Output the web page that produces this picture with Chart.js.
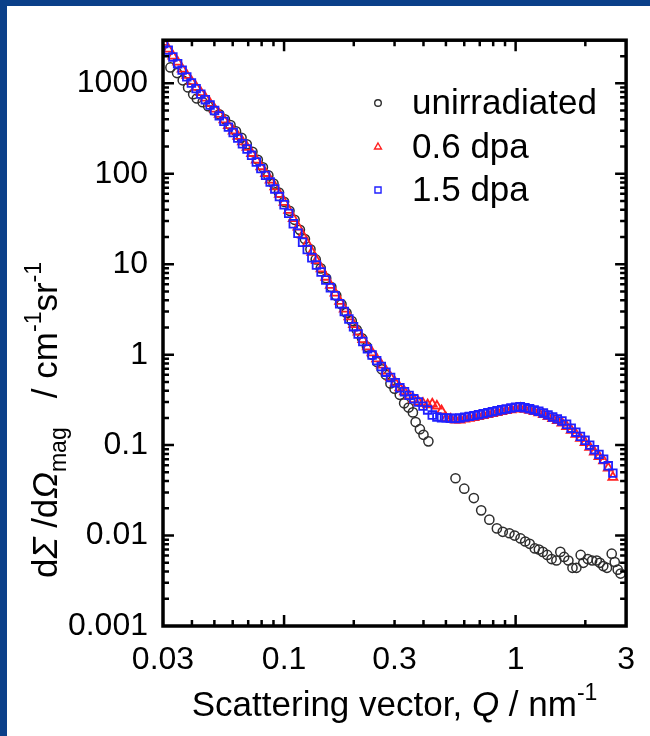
<!DOCTYPE html>
<html>
<head>
<meta charset="utf-8">
<title>SANS magnetic cross-section</title>
<script src="https://cdn.jsdelivr.net/npm/chart.js@4.4.1/dist/chart.umd.min.js"></script>
<style>
  html, body { margin: 0; padding: 0; background: #0b4089; }
  #frame { position: absolute; left: 7px; top: 6px; width: 643px; height: 730px; background: #fff; }
  canvas { display: block; }
</style>
</head>
<body>
<div id="frame"><canvas id="sans" width="643" height="730"></canvas></div>
<script>
// scattering vector Q (nm^-1) shared by both irradiated samples
const qIrr = [
  0.0302, 0.0316, 0.0331, 0.0347, 0.0363, 0.0380, 0.0398, 0.0417, 0.0437, 0.0457,
  0.0479, 0.0501, 0.0525, 0.0550, 0.0575, 0.0603, 0.0631, 0.0661, 0.0692, 0.0724,
  0.0759, 0.0794, 0.0832, 0.0871, 0.0912, 0.0955, 0.1, 0.1047, 0.1096, 0.1148,
  0.1202, 0.1259, 0.1318, 0.1380, 0.1445, 0.1514, 0.1585, 0.1660, 0.1738, 0.1820,
  0.1905, 0.1995, 0.2089, 0.2188, 0.2291, 0.2399, 0.2512, 0.2630, 0.2754, 0.2884,
  0.3020, 0.3162, 0.3311, 0.3467, 0.3631, 0.3802, 0.3981, 0.4169, 0.4365, 0.4571,
  0.4786, 0.5012, 0.5248, 0.5495, 0.5754, 0.6026, 0.6310, 0.6607, 0.6918, 0.7244,
  0.7586, 0.7943, 0.8318, 0.8710, 0.9120, 0.9550, 1.0, 1.047, 1.096, 1.148,
  1.202, 1.259, 1.318, 1.380, 1.445, 1.514, 1.585, 1.660, 1.738, 1.820,
  1.905, 1.995, 2.089, 2.188, 2.291, 2.399, 2.512, 2.630
];

// 0.6 dpa (red triangles)
const dpa06 = [
  2850, 2400, 2010, 1720, 1440, 1230, 1050, 905, 790, 690,
  600, 520, 455, 395, 342, 298, 260, 226, 196, 168,
  142, 120, 101, 85.5, 72, 59.5, 48.5, 39.5, 32, 25.8,
  21, 17, 13.6, 11, 8.9, 7.2, 5.85, 4.8, 3.9, 3.2,
  2.62, 2.15, 1.78, 1.47, 1.22, 1.05, 0.9, 0.77, 0.66, 0.56,
  0.49, 0.43, 0.39, 0.35, 0.32, 0.3, 0.29, 0.28, 0.285, 0.27,
  0.24, 0.198, 0.194, 0.19, 0.19, 0.195, 0.198, 0.202, 0.207, 0.212,
  0.218, 0.224, 0.23, 0.236, 0.241, 0.246, 0.251, 0.255, 0.25, 0.243,
  0.235, 0.228, 0.218, 0.207, 0.197, 0.187, 0.176, 0.161, 0.146, 0.132,
  0.119, 0.107, 0.095, 0.084, 0.075, 0.067, 0.056, 0.044
];

// 1.5 dpa (blue squares)
const dpa15 = [
  2760, 2330, 1960, 1650, 1400, 1180, 1010, 875, 760, 660,
  575, 500, 437, 380, 328, 286, 248, 215, 188, 160,
  135, 114, 96, 81, 68, 56, 45.5, 36.5, 28, 22,
  17.5, 14.5, 11.8, 9.8, 8.2, 6.7, 5.5, 4.5, 3.66, 3.0,
  2.48, 2.04, 1.69, 1.4, 1.16, 0.99, 0.86, 0.74, 0.64, 0.56,
  0.49, 0.43, 0.39, 0.355, 0.325, 0.3, 0.27, 0.245, 0.215, 0.205,
  0.2, 0.2, 0.198, 0.197, 0.199, 0.204, 0.208, 0.212, 0.217, 0.222,
  0.228, 0.234, 0.24, 0.246, 0.251, 0.257, 0.262, 0.266, 0.259, 0.252,
  0.244, 0.237, 0.227, 0.216, 0.205, 0.195, 0.185, 0.17, 0.154, 0.139,
  0.125, 0.113, 0.1, 0.089, 0.079, 0.07, 0.059, 0.049
];

// unirradiated (black circles)
const qUnirr = [
  0.0323, 0.0345, 0.0365, 0.0385, 0.0405, 0.042, 0.0445, 0.047, 0.0497, 0.0525,
  0.0555, 0.0587, 0.062, 0.0655, 0.069, 0.073, 0.077, 0.081, 0.0855, 0.09,
  0.095, 0.1, 0.1055, 0.111, 0.117, 0.123, 0.13, 0.137, 0.144, 0.152,
  0.16, 0.168, 0.177, 0.186, 0.196, 0.206, 0.217, 0.228, 0.24, 0.252,
  0.264, 0.275, 0.288, 0.3, 0.316, 0.33, 0.345, 0.36, 0.37, 0.386,
  0.40, 0.42,
  0.55, 0.60, 0.66, 0.71, 0.77, 0.83, 0.88, 0.94, 0.99, 1.05,
  1.10, 1.15, 1.21, 1.26, 1.31, 1.37, 1.43, 1.50, 1.56, 1.62,
  1.69, 1.76, 1.83, 1.91, 1.96, 2.05, 2.14, 2.24, 2.31, 2.39,
  2.48, 2.6, 2.68, 2.76, 2.84
];
const unirr = [
  1500, 1300, 1080, 900, 760, 680, 620, 560, 505, 455,
  400, 345, 295, 250, 212, 175, 143, 118, 96, 78,
  62, 49, 39, 31, 24, 19, 14.6, 11.3, 9.0, 7.0,
  5.6, 4.5, 3.6, 2.9, 2.35, 1.88, 1.52, 1.22, 1.0, 0.83,
  0.69, 0.6, 0.48, 0.42, 0.36, 0.29, 0.26, 0.23, 0.18, 0.15,
  0.13, 0.11,
  0.043, 0.033, 0.026, 0.019, 0.015, 0.012, 0.011, 0.0106, 0.010, 0.0093,
  0.0086, 0.0081, 0.0072, 0.0070, 0.0066, 0.0061, 0.0055, 0.0053, 0.0066, 0.0058,
  0.0053, 0.0044, 0.0044, 0.0061, 0.0050, 0.0055, 0.0053, 0.0053, 0.0050, 0.0046,
  0.0044, 0.0063, 0.0051, 0.0042, 0.0038
];

const seriesNames = ['unirradiated', '0.6 dpa', '1.5 dpa'];
const xTickLabels = [0.03, 0.1, 0.3, 1, 3];
const yTickLabels = [0.001, 0.01, 0.1, 1, 10, 100, 1000];

const FONT = '"Liberation Sans", Arial, sans-serif';

function pts(xs, ys) {
  return xs.map((v, i) => ({ x: v, y: ys[i] }));
}

// box with inward ticks on all four sides
const frameBox = {
  id: 'frameBox',
  afterDatasetsDraw(chart) {
    const { ctx, chartArea: a, scales } = chart;
    const x = scales.x, y = scales.y;
    ctx.save();
    ctx.strokeStyle = '#000';
    ctx.lineWidth = 2.5;
    ctx.beginPath();
    [0.01, 0.1, 1].forEach(d => {
      for (let k = 1; k <= 9; k++) {
        const v = k * d;
        if (v <= 0.0301 || v >= 2.99) continue;
        const px = x.getPixelForValue(v);
        const len = k === 1 ? 11 : 6;
        ctx.moveTo(px, a.bottom); ctx.lineTo(px, a.bottom - len);
        ctx.moveTo(px, a.top); ctx.lineTo(px, a.top + len);
      }
    });
    [0.001, 0.01, 0.1, 1, 10, 100, 1000].forEach(d => {
      for (let k = 1; k <= 9; k++) {
        const v = k * d;
        if (v <= 0.001 || v >= 3000) continue;
        const py = y.getPixelForValue(v);
        const len = k === 1 ? 11 : 6;
        ctx.moveTo(a.left, py); ctx.lineTo(a.left + len, py);
        ctx.moveTo(a.right, py); ctx.lineTo(a.right - len, py);
      }
    });
    ctx.stroke();
    ctx.lineWidth = 3.5;
    ctx.strokeRect(a.left, a.top, a.right - a.left, a.bottom - a.top);
    ctx.restore();
  }
};

// draws a run of text pieces (normal / italic / sub / sup) starting at x0
function drawPieces(ctx, pieces, x0, base) {
  let xx = x0;
  pieces.forEach(p => {
    ctx.font = p.font;
    ctx.fillText(p.t, xx, base + (p.dy || 0));
    xx += ctx.measureText(p.t).width;
  });
}
function piecesWidth(ctx, pieces) {
  let w = 0;
  pieces.forEach(p => { ctx.font = p.font; w += ctx.measureText(p.t).width; });
  return w;
}

const titles = {
  id: 'titles',
  afterDraw(chart) {
    const { ctx, chartArea: a } = chart;
    const n = '35px ' + FONT, it = 'italic 35px ' + FONT, sm = '23px ' + FONT;
    ctx.save();
    ctx.fillStyle = '#000';
    ctx.textBaseline = 'alphabetic';
    ctx.textAlign = 'left';

    const xt = [
      { t: 'Scattering vector, ', font: n },
      { t: 'Q', font: it },
      { t: ' / nm', font: n },
      { t: '-1', font: sm, dy: -16 }
    ];
    const wx = piecesWidth(ctx, xt);
    drawPieces(ctx, xt, (a.left + a.right) / 2 - wx / 2, 710);

    const yt = [
      { t: 'd', font: n },
      { t: 'Σ', font: it },
      { t: ' /d', font: n },
      { t: 'Ω', font: it },
      { t: 'mag', font: sm, dy: 9 },
      { t: '   / cm', font: n },
      { t: '-1', font: sm, dy: -16 },
      { t: 'sr', font: n },
      { t: '-1', font: sm, dy: -16 }
    ];
    const wy = piecesWidth(ctx, yt);
    ctx.translate(50, 414);
    ctx.rotate(-Math.PI / 2);
    drawPieces(ctx, yt, -wy / 2, 0);
    ctx.restore();
  }
};

// legend inside the plot
const insideLegend = {
  id: 'insideLegend',
  afterDraw(chart) {
    const { ctx } = chart;
    const rows = [97, 141, 184];
    ctx.save();
    chart.data.datasets.forEach((ds, i) => {
      ctx.fillStyle = 'rgba(0,0,0,0)';
      ctx.strokeStyle = ds.borderColor;
      ctx.lineWidth = 1.4;
      Chart.helpers.drawPoint(ctx, {
        pointStyle: ds.pointStyle, radius: ds.legendRadius, borderWidth: 1.4
      }, 371, rows[i]);
      ctx.font = '35px ' + FONT;
      ctx.fillStyle = '#000';
      ctx.textBaseline = 'middle';
      ctx.textAlign = 'left';
      ctx.fillText(seriesNames[i], 405, rows[i] + 1);
    });
    ctx.restore();
  }
};

const ctx = document.getElementById('sans').getContext('2d');
const sansChart = new Chart(ctx, {
  type: 'scatter',
  data: {
    datasets: [
      {
        label: seriesNames[0],
        data: pts(qUnirr, unirr),
        pointStyle: 'circle',
        pointRadius: 4.6,
        legendRadius: 3.3,
        borderColor: '#2e2e2e',
        backgroundColor: 'rgba(0,0,0,0)',
        pointBorderWidth: 1.5,
        order: 3
      },
      {
        label: seriesNames[1],
        data: pts(qIrr, dpa06),
        pointStyle: 'triangle',
        pointRadius: 5.2,
        legendRadius: 4,
        borderColor: '#ff2020',
        backgroundColor: 'rgba(0,0,0,0)',
        pointBorderWidth: 1.8,
        order: 2
      },
      {
        label: seriesNames[2],
        data: pts(qIrr, dpa15),
        pointStyle: 'rect',
        pointRadius: 5.4,
        legendRadius: 4.3,
        borderColor: '#2020ff',
        backgroundColor: 'rgba(0,0,0,0)',
        pointBorderWidth: 1.8,
        order: 1
      }
    ]
  },
  options: {
    responsive: false,
    animation: false,
    events: [],
    layout: { padding: { left: 0, top: 33, right: 18, bottom: 0 } },
    plugins: { legend: { display: false }, tooltip: { enabled: false } },
    scales: {
      x: {
        type: 'logarithmic',
        min: 0.03,
        max: 3,
        afterFit: s => { s.height = 110; },
        afterBuildTicks: s => { s.ticks = xTickLabels.map(v => ({ value: v })); },
        grid: { display: false, drawTicks: false },
        border: { display: false },
        ticks: {
          autoSkip: false, maxRotation: 0, padding: 15,
          color: '#000', font: { family: FONT, size: 32 },
          callback: v => String(v)
        }
      },
      y: {
        type: 'logarithmic',
        min: 0.001,
        max: 3000,
        afterFit: s => { s.width = 156; },
        afterBuildTicks: s => { s.ticks = yTickLabels.map(v => ({ value: v })); },
        grid: { display: false, drawTicks: false },
        border: { display: false },
        ticks: {
          autoSkip: false, padding: 15,
          color: '#000', font: { family: FONT, size: 32 },
          callback: v => String(v)
        }
      }
    }
  },
  plugins: [frameBox, titles, insideLegend]
});
</script>
</body>
</html>
